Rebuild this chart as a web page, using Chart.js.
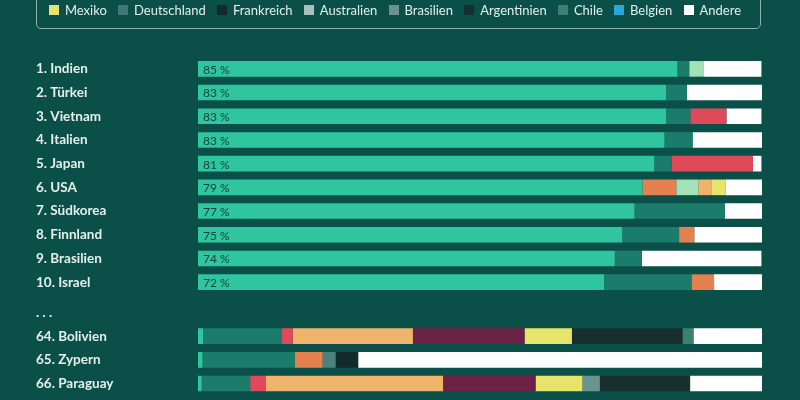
<!DOCTYPE html>
<html>
<head>
<meta charset="utf-8">
<script src="https://cdn.jsdelivr.net/npm/chart.js@4/dist/chart.umd.min.js"></script>
<style>
  body { margin:0; background:#0a5049; font-family:Lato, sans-serif; }
  #wrap { position:relative; width:800px; height:400px; overflow:hidden; }
  #legendbox { position:absolute; left:36px; top:-30px; width:723px; height:57px; border:1px solid #8fb2aa; border-radius:5px; }
  #legend { position:absolute; left:0; top:0; width:790px; height:19px; display:flex; justify-content:center; align-items:center; color:#e4eeeb; font-size:13px; }
  #legend span.item { display:flex; align-items:center; margin:0 5.6px; }
  #legend i { display:inline-block; width:10px; height:10px; margin-right:6px; }
  #chartTop { position:absolute; left:0; top:0; }
  #chartBottom { position:absolute; left:0; top:300px; }
</style>
</head>
<body>
<div id="wrap">
  <canvas id="chartTop" width="800" height="300"></canvas>
  <canvas id="chartBottom" width="800" height="100"></canvas>
  <div id="legendbox"></div>
  <div id="legend"></div>
</div>
<script>
// categories
const laender = ["1. Indien","2. Türkei","3. Vietnam","4. Italien","5. Japan","6. USA","7. Südkorea","8. Finnland","9. Brasilien","10. Israel",". . .","64. Bolivien","65. Zypern","66. Paraguay"];

// shares in % per origin
const inland      = [85, 83, 83, 82.7, 80.9, 78.8, 77.4, 75.2, 73.9, 72, null, 0.9, 0.8, 0.65];
const usa         = [2.1, 3.7, 4.3, 5.0, 3.1, 0, 16.0, 10.1, 4.8, 15.5, null, 13.9, 16.4, 8.6];
const uk          = [0, 0, 0, 0, 0, 6.0, 0, 2.7, 0, 4.0, null, 0, 4.9, 0];
const kanada      = [2.5, 0, 0, 0, 0, 3.9, 0, 0, 0, 0, null, 0, 0, 0];
const suedkorea   = [0, 0, 6.4, 0, 14.4, 0, 0, 0, 0, 0, null, 2.0, 0, 2.8];
const puertoRico  = [0, 0, 0, 0, 0, 2.3, 0, 0, 0, 0, null, 21.3, 0, 31.4];
const kolumbien   = [0, 0, 0, 0, 0, 0, 0, 0, 0, 0, null, 19.8, 0, 16.4];
const mexiko      = [0, 0, 0, 0, 0, 2.5, 0, 0, 0, 0, null, 8.4, 0, 8.3];
const deutschland = [0, 0, 0, 0, 0, 0, 0, 0, 0, 0, null, 0, 2.3, 0];
const frankreich  = [0, 0, 0, 0, 0, 0, 0, 0, 0, 0, null, 0, 4.0, 0];
const australien  = [0, 0, 0, 0, 0, 0, 0, 0, 0, 0, null, 0, 0, 0];
const brasilien   = [0, 0, 0, 0, 0, 0, 0, 0, 0, 0, null, 0, 0, 3.1];
const argentinien = [0, 0, 0, 0, 0, 0, 0, 0, 0, 0, null, 19.6, 0, 16.0];
const chile       = [0, 0, 0, 0, 0, 0, 0, 0, 0, 0, null, 1.95, 0, 0];
const belgien     = [0, 0, 0, 0, 0, 0, 0, 0, 0, 0, null, 0, 0, 0];
const andere      = [10.3, 13.3, 6.2, 12.4, 1.5, 6.6, 6.7, 12.0, 21.2, 8.5, null, 12.2, 71.6, 12.8];

const series = [
  ["Inland", inland, "#2fc59f"],
  ["USA", usa, "#1b7c6b"],
  ["Großbritannien", uk, "#e5804f"],
  ["Kanada", kanada, "#a2e2b6"],
  ["Südkorea", suedkorea, "#e04959"],
  ["Puerto Rico", puertoRico, "#efb36c"],
  ["Kolumbien", kolumbien, "#6b2244"],
  ["Mexiko", mexiko, "#e8e46b"],
  ["Deutschland", deutschland, "#4a827d"],
  ["Frankreich", frankreich, "#132a2c"],
  ["Australien", australien, "#a9c0bc"],
  ["Brasilien", brasilien, "#6b9490"],
  ["Argentinien", argentinien, "#17302f"],
  ["Chile", chile, "#3e7f73"],
  ["Belgien", belgien, "#2aa7d6"],
  ["Andere", andere, "#ffffff"]
];
const legendItems = ["Mexiko","Deutschland","Frankreich","Australien","Brasilien","Argentinien","Chile","Belgien","Andere"];

let lg = document.getElementById("legend");
legendItems.forEach(function(n){
  let s = series.find(x => x[0] === n);
  let col = n === "Deutschland" ? "#3e7a73" : s[2];
  lg.innerHTML += '<span class="item"><i style="background:' + col + '"></i>' + n + '</span>';
});

// "85 %" etc. inside the first (domestic) segment, only for the top list
const pctLabels = {
  id: 'pctLabels',
  afterDatasetsDraw(chart) {
    if (!chart.options.showPct) return;
    let ctx = chart.ctx;
    let meta = chart.getDatasetMeta(0);
    ctx.save();
    ctx.font = '12px Lato';
    ctx.fillStyle = '#0b463f';
    ctx.textBaseline = 'middle';
    ctx.textAlign = 'left';
    meta.data.forEach(function(bar, i){
      let v = chart.data.datasets[0].data[i];
      if (v == null) return;
      ctx.fillText(Math.round(v) + ' %', bar.base + 5, bar.y + 1);
    });
    ctx.restore();
  }
};

function makeChart(id, from, to, padTop, padBottom, showPct)
{
  let c = document.getElementById(id).getContext('2d');
  return new Chart(c, {
    type: 'bar',
    data: {
      labels: laender.slice(from, to),
      datasets: series.map(s => ({
        label: s[0],
        data: s[1].slice(from, to),
        backgroundColor: s[2],
        borderWidth: 0,
        barPercentage: 0.66,
        categoryPercentage: 1
      }))
    },
    options: {
      indexAxis: 'y',
      responsive: false,
      animation: false,
      showPct: showPct,
      layout: { padding: { left: 36, right: 38, top: padTop, bottom: padBottom } },
      plugins: { legend: { display: false }, tooltip: { enabled: false } },
      scales: {
        x: { stacked: true, min: 0, max: 100, display: false },
        y: {
          stacked: true,
          grid: { display: false },
          border: { display: false },
          afterFit(scale) {
            scale.width = 162;
            scale.paddingTop = 0;
            scale.paddingBottom = 0;
          },
          ticks: {
            crossAlign: 'far',
            color: '#e6efec',
            font: { family: 'Lato', size: 13.5, weight: 'bold' }
          }
        }
      }
    },
    plugins: [pctLabels]
  });
}

makeChart('chartTop', 0, 10, 57, 6, true);
makeChart('chartBottom', 10, 14, 0.6, 4.6, false);
</script>
</body>
</html>
